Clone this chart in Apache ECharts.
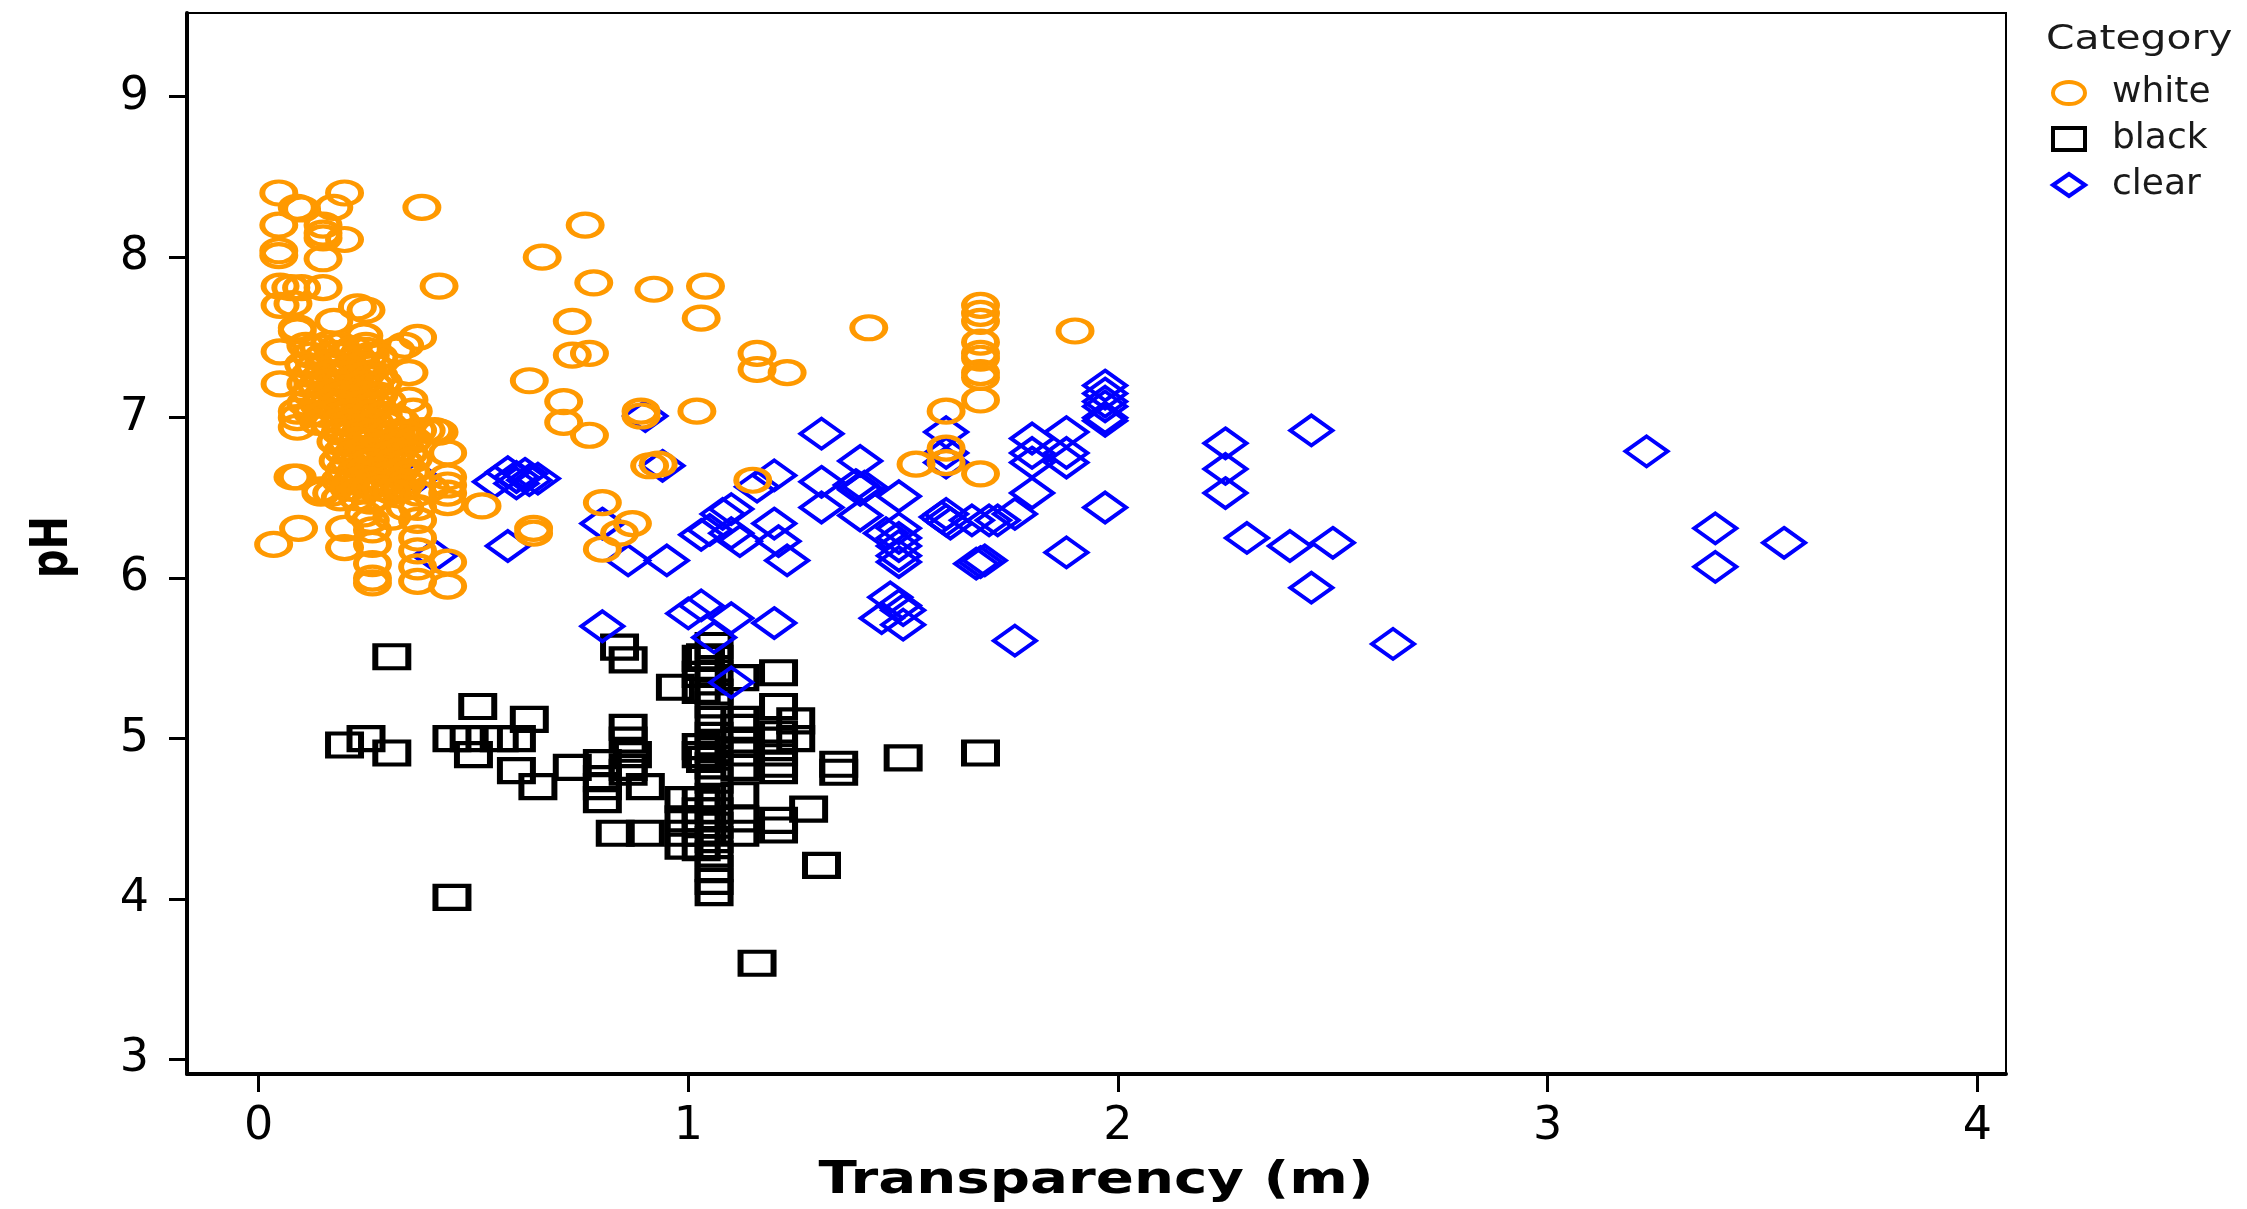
<!DOCTYPE html>
<html>
<head>
<meta charset="utf-8">
<title>pH vs Transparency</title>
<script src="https://cdn.jsdelivr.net/npm/echarts@6/dist/echarts.min.js"></script>
<style>
    html, body { margin: 0; padding: 0; background: #fff; }
    #chart { width: 2247px; height: 1209px; }
</style>
</head>
<body>
<div id="chart"></div>
<script>
// tick labels
const xTicks = [0, 1, 2, 3, 4];
const yTicks = [3, 4, 5, 6, 7, 8, 9];
const categories = ['white', 'black', 'clear'];

// white: scattered points
const whitePts = [
    [0.047, 8.40], [0.09, 8.31], [0.10, 8.30], [0.20, 8.40], [0.175, 8.31], [0.047, 8.20],
    [0.15, 8.20], [0.20, 8.11], [0.15, 8.12], [0.15, 8.15], [0.047, 8.04], [0.047, 8.01],
    [0.15, 7.99], [0.38, 8.31], [0.42, 7.82], [0.76, 8.20], [0.66, 8.00], [0.78, 7.84],
    [0.92, 7.80], [0.73, 7.60], [0.73, 7.39], [0.77, 7.40], [0.63, 7.23], [0.71, 7.10],
    [0.71, 6.97], [0.77, 6.89], [0.89, 7.01], [0.89, 7.04], [0.91, 6.70], [0.93, 6.71],
    [0.80, 6.47], [0.87, 6.34], [0.84, 6.28], [0.80, 6.18], [0.52, 6.45], [0.64, 6.31],
    [0.64, 6.28], [0.44, 6.78], [0.44, 6.63], [0.44, 6.58], [0.44, 6.53], [0.44, 6.47],
    [0.44, 6.10], [0.44, 5.95], [0.41, 6.92], [0.37, 6.92], [0.37, 6.36], [0.37, 6.25],
    [0.37, 6.17], [0.37, 6.07], [0.37, 5.98], [0.265, 6.30], [0.265, 6.21], [0.265, 6.09],
    [0.265, 6.00], [0.265, 5.97], [0.20, 6.31], [0.20, 6.19], [0.093, 6.31], [0.035, 6.21],
    [0.08, 6.63], [0.145, 6.55], [0.05, 7.21], [0.05, 7.41], [0.09, 7.54], [0.05, 7.82],
    [0.075, 7.81], [0.10, 7.81], [0.15, 7.81], [0.05, 7.70], [0.08, 7.71], [0.175, 7.60],
    [0.25, 7.67], [0.23, 7.69], [0.245, 7.51], [0.25, 7.42], [0.37, 7.50], [0.34, 7.45],
    [0.32, 7.42], [0.35, 7.28], [0.35, 7.11], [0.36, 7.04], [0.32, 7.00], [0.39, 6.92],
    [0.42, 6.91], [0.09, 6.94], [0.09, 7.00], [0.09, 7.04], [0.09, 6.63], [0.145, 6.53],
    [0.17, 6.53], [0.19, 6.50], [0.23, 6.50], [0.26, 6.48], [0.245, 6.40], [0.26, 6.36],
    [0.31, 6.38], [0.34, 6.44], [0.37, 6.53], [0.37, 6.44], [0.40, 6.56], [0.09, 7.56],
    [1.02, 7.04], [1.04, 7.82], [1.03, 7.62], [1.16, 7.40], [1.16, 7.30], [1.15, 6.61],
    [1.23, 7.28], [1.42, 7.56], [1.53, 6.71], [1.60, 7.04], [1.60, 6.81], [1.60, 6.72],
    [1.68, 7.70], [1.68, 7.65], [1.68, 7.60], [1.68, 7.47], [1.68, 7.40], [1.68, 7.37],
    [1.68, 7.28], [1.68, 7.25], [1.68, 7.11], [1.68, 6.65], [1.90, 7.54]
];

// white: the packed cluster near the origin
const whiteDense = [
    [0.11, 7.45], [0.14, 7.44], [0.165, 7.46], [0.19, 7.45], [0.22, 7.43], [0.25, 7.45],
    [0.12, 7.39], [0.15, 7.38], [0.175, 7.40], [0.20, 7.39], [0.23, 7.37], [0.26, 7.39], [0.28, 7.38],
    [0.105, 7.33], [0.13, 7.32], [0.16, 7.34], [0.185, 7.33], [0.21, 7.31], [0.24, 7.33], [0.27, 7.32],
    [0.12, 7.27], [0.145, 7.26], [0.17, 7.28], [0.20, 7.27], [0.225, 7.25], [0.25, 7.27], [0.28, 7.26],
    [0.11, 7.21], [0.135, 7.20], [0.16, 7.22], [0.19, 7.21], [0.215, 7.19], [0.24, 7.21], [0.27, 7.20], [0.29, 7.22],
    [0.12, 7.15], [0.15, 7.14], [0.175, 7.16], [0.20, 7.15], [0.23, 7.13], [0.255, 7.15], [0.28, 7.14],
    [0.11, 7.09], [0.14, 7.08], [0.165, 7.10], [0.19, 7.09], [0.22, 7.07], [0.245, 7.09], [0.27, 7.08], [0.30, 7.10],
    [0.125, 7.03], [0.15, 7.02], [0.18, 7.04], [0.205, 7.03], [0.23, 7.01], [0.26, 7.03], [0.29, 7.02],
    [0.14, 6.97], [0.165, 6.96], [0.19, 6.98], [0.215, 6.97], [0.245, 6.95], [0.27, 6.97], [0.30, 6.96], [0.33, 6.98],
    [0.19, 6.91], [0.215, 6.90], [0.24, 6.92], [0.265, 6.91], [0.29, 6.89], [0.32, 6.91], [0.345, 6.90],
    [0.18, 6.85], [0.205, 6.84], [0.23, 6.86], [0.26, 6.85], [0.285, 6.83], [0.31, 6.85], [0.335, 6.84], [0.36, 6.86],
    [0.195, 6.79], [0.22, 6.78], [0.245, 6.80], [0.27, 6.79], [0.30, 6.77], [0.325, 6.79], [0.35, 6.78],
    [0.185, 6.73], [0.21, 6.72], [0.235, 6.74], [0.26, 6.73], [0.29, 6.71], [0.315, 6.73], [0.34, 6.72], [0.36, 6.74],
    [0.20, 6.67], [0.225, 6.66], [0.25, 6.68], [0.28, 6.67], [0.305, 6.65], [0.33, 6.67], [0.355, 6.66],
    [0.19, 6.61], [0.215, 6.60], [0.24, 6.62], [0.265, 6.61], [0.29, 6.59], [0.32, 6.61], [0.345, 6.60],
    [0.21, 6.56], [0.235, 6.55], [0.26, 6.57], [0.285, 6.56], [0.31, 6.54], [0.335, 6.56]
];

const blackPts = [
    [0.31, 5.51], [0.51, 5.20], [0.20, 4.96], [0.25, 5.00], [0.31, 4.91], [0.45, 5.00],
    [0.49, 5.00], [0.56, 5.00], [0.60, 5.00], [0.50, 4.90], [0.63, 5.12], [0.60, 4.80],
    [0.65, 4.70], [0.45, 4.01], [0.73, 4.82], [0.80, 4.85], [0.80, 4.75], [0.80, 4.62],
    [0.83, 4.41], [0.84, 5.57], [0.86, 5.49], [0.86, 5.07], [0.86, 4.99], [0.87, 4.90],
    [0.86, 4.82], [0.86, 4.79], [0.80, 4.70], [0.90, 4.70], [0.90, 4.41], [0.97, 5.32],
    [1.04, 5.51], [1.04, 4.87],
    [1.06, 5.58], [1.06, 5.50], [1.06, 5.41], [1.06, 5.29], [1.06, 5.21], [1.06, 5.12],
    [1.06, 5.02], [1.06, 4.93], [1.06, 4.83], [1.06, 4.74], [1.06, 4.64], [1.06, 4.55],
    [1.06, 4.46], [1.06, 4.37], [1.06, 4.28], [1.06, 4.19], [1.06, 4.11], [1.06, 4.04],
    [1.03, 5.50], [1.03, 5.40], [1.03, 5.30], [1.03, 4.95], [1.03, 4.90], [1.03, 4.62],
    [1.03, 4.55], [1.03, 4.50], [1.03, 4.41], [1.03, 4.32],
    [0.99, 4.62], [0.99, 4.50], [0.99, 4.41], [0.99, 4.33],
    [1.12, 5.38], [1.12, 5.12], [1.12, 5.07], [1.12, 4.99], [1.12, 4.91], [1.12, 4.82],
    [1.12, 4.65], [1.12, 4.50], [1.12, 4.41],
    [1.21, 5.41], [1.21, 5.20], [1.21, 5.03], [1.21, 4.99], [1.21, 4.91], [1.21, 4.84],
    [1.21, 4.80], [1.21, 4.49], [1.21, 4.43],
    [1.25, 5.11], [1.25, 5.00], [1.28, 4.56], [1.31, 4.21], [1.35, 4.84], [1.35, 4.79],
    [1.50, 4.88], [1.68, 4.91], [1.16, 3.60]
];

const clearPts = [
    [0.90, 7.01], [0.94, 6.70], [0.58, 6.20], [0.80, 6.34], [0.86, 6.11], [0.95, 6.11],
    [0.41, 6.14], [0.37, 6.63],
    [0.55, 6.60], [0.58, 6.66], [0.60, 6.63], [0.62, 6.65], [0.63, 6.61], [0.65, 6.62], [0.60, 6.59],
    [0.80, 5.70], [1.00, 5.78], [1.10, 5.75], [1.06, 5.63], [1.20, 5.72], [1.10, 5.35],
    [1.76, 5.61], [1.03, 5.83], [1.45, 5.75], [1.50, 5.71], [1.49, 5.83], [1.47, 5.88], [1.50, 5.80],
    [1.31, 6.90], [1.40, 6.73], [1.20, 6.64], [1.31, 6.60], [1.39, 6.58], [1.40, 6.56],
    [1.41, 6.57], [1.40, 6.55], [1.49, 6.51], [1.31, 6.44], [1.40, 6.39], [1.60, 6.91],
    [1.60, 6.78], [1.60, 6.72], [1.60, 6.36], [1.59, 6.38], [1.61, 6.34], [1.60, 6.40],
    [1.68, 6.10], [1.67, 6.09], [1.69, 6.11], [1.72, 6.36], [1.10, 6.43], [1.10, 6.28],
    [1.03, 6.27], [1.20, 6.34], [1.21, 6.23], [1.23, 6.11], [1.49, 6.31], [1.49, 6.25],
    [1.49, 6.20], [1.49, 6.14], [1.49, 6.10], [1.46, 6.28], [1.66, 6.36], [1.16, 6.57],
    [1.12, 6.23], [1.05, 6.30], [1.08, 6.40],
    [1.97, 7.20], [1.97, 7.15], [1.97, 7.10], [1.97, 7.07], [1.97, 7.00], [1.97, 6.98],
    [1.80, 6.87], [1.80, 6.78], [1.80, 6.72], [1.88, 6.91], [1.88, 6.78], [1.88, 6.72],
    [1.80, 6.53], [1.76, 6.40], [1.97, 6.44], [1.88, 6.16], [1.70, 6.36],
    [2.25, 6.84], [2.25, 6.68], [2.25, 6.53], [2.45, 6.92], [2.30, 6.25], [2.40, 6.20],
    [2.50, 6.22], [2.45, 5.94], [2.64, 5.59], [3.23, 6.79], [3.39, 6.31], [3.39, 6.07],
    [3.55, 6.22]
];

let myChart = null;

const ellipse = 'path://M0,50 A50,50 0 1,1 100,50 A50,50 0 1,1 0,50 Z';

function initChart() {
    myChart = echarts.init(document.getElementById('chart'));
    updateChart();
}

function updateChart() {
    const labelFont = { fontFamily: 'DejaVu Sans', fontSize: 46, color: '#000' };
    const option = {
        animation: false,
        backgroundColor: '#fff',
        grid: {
            left: 187, right: 241, top: 13, bottom: 135,
            show: true, borderColor: '#000', borderWidth: 2
        },
        legend: {
            data: categories,
            orient: 'vertical',
            left: 2046,
            top: 70,
            itemWidth: 32,
            itemHeight: 22,
            itemGap: 10,
            symbolKeepAspect: false,
            selectedMode: false,
            itemStyle: { borderWidth: 4 },
            textStyle: {
                fontFamily: 'DejaVu Sans', fontSize: 36, color: '#1a1a1a',
                padding: [0, 0, 0, 22]
            }
        },
        xAxis: {
            type: 'value',
            min: -0.1666,
            max: 4.0665,
            splitLine: { show: false },
            axisLine: { onZero: false, lineStyle: { color: '#000', width: 4 } },
            axisTick: { customValues: xTicks, length: 18, lineStyle: { color: '#000', width: 3 } },
            axisLabel: Object.assign({ customValues: xTicks, margin: 30 }, labelFont)
        },
        yAxis: {
            type: 'value',
            min: 2.9096,
            max: 9.5216,
            splitLine: { show: false },
            axisLine: { onZero: false, lineStyle: { color: '#000', width: 4 } },
            axisTick: { customValues: yTicks, length: 18, lineStyle: { color: '#000', width: 3 } },
            axisLabel: Object.assign({ customValues: yTicks, margin: 38 }, labelFont)
        },
        graphic: [
            {
                type: 'text', x: 1096, y: 1181, scaleX: 1.25,
                style: {
                    text: 'Transparency (m)', fontFamily: 'DejaVu Sans', fontWeight: 'bold',
                    fontSize: 45, fill: '#000', align: 'center', verticalAlign: 'middle'
                }
            },
            {
                type: 'text', x: 54, y: 547, rotation: Math.PI / 2, scaleY: 1.28,
                style: {
                    text: 'pH', fontFamily: 'DejaVu Sans', fontWeight: 'bold',
                    fontSize: 40, fill: '#000', align: 'center', verticalAlign: 'middle'
                }
            },
            {
                type: 'text', x: 2046, y: 40, scaleX: 1.2,
                style: {
                    text: 'Category', fontFamily: 'DejaVu Sans', fontSize: 34,
                    fill: '#1a1a1a', align: 'left', verticalAlign: 'middle'
                }
            }
        ],
        // draw order: black at the bottom, then clear, then white on top
        series: [
            {
                name: 'black',
                type: 'scatter',
                data: blackPts,
                symbol: 'rect',
                symbolSize: [33, 23],
                itemStyle: { color: 'rgba(0,0,0,0)', borderColor: '#000', borderWidth: 5, opacity: 1 },
                emphasis: { disabled: true }
            },
            {
                name: 'clear',
                type: 'scatter',
                data: clearPts,
                symbol: 'diamond',
                symbolSize: [42, 30],
                itemStyle: { color: 'rgba(0,0,0,0)', borderColor: '#0000ff', borderWidth: 4, opacity: 1 },
                emphasis: { disabled: true }
            },
            {
                name: 'white',
                type: 'scatter',
                data: whitePts.concat(whiteDense),
                symbol: ellipse,
                symbolSize: [33, 23],
                itemStyle: { color: 'rgba(0,0,0,0)', borderColor: '#ff9900', borderWidth: 5, opacity: 1 },
                emphasis: { disabled: true }
            }
        ]
    };

    myChart.setOption(option);
}

window.addEventListener('resize', () => {
    if (myChart) myChart.resize();
});

window.onload = initChart;
</script>
</body>
</html>
